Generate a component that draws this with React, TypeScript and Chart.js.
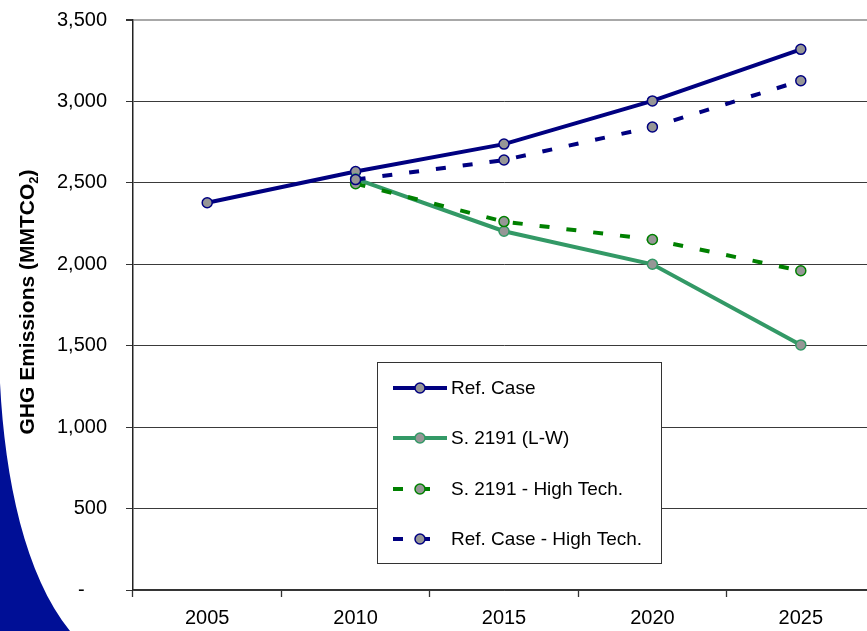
import React, { useEffect, useRef } from 'react';
import { Chart, registerables } from 'chart.js';

Chart.register(...registerables);

// ---- data ----
const years = ['2005', '2010', '2015', '2020', '2025'];
const refCase = [2378, 2570, 2738, 3003, 3320];
const s2191LW = [null, 2525, 2203, 2000, 1505];
const s2191HighTech = [null, 2495, 2262, 2152, 1960];
const refCaseHighTech = [null, 2520, 2640, 2843, 3127];
const yTickValues = [0, 500, 1000, 1500, 2000, 2500, 3000, 3500];
const seriesLabels = ['Ref. Case', 'S. 2191 (L-W)', 'S. 2191 - High Tech.', 'Ref. Case - High Tech.'];
const yTitleMain = 'GHG Emissions (MMTCO';
const yTitleSub = '2';
const yTitleEnd = ')';

const FONT = '"Liberation Sans", Arial, Helvetica, sans-serif';
const NAVY = '#000080';
const SEA = '#339966';
const GREEN = '#008000';
const MARK = '#969696';

const decoPlugin = {
  id: 'deco',
  beforeDraw(chart: any) {
    const ctx = chart.ctx;
    ctx.save();
    ctx.fillStyle = '#000f96';
    ctx.beginPath();
    ctx.moveTo(0, 383);
    ctx.bezierCurveTo(5, 480, 25, 575, 70, 631);
    ctx.lineTo(0, 631);
    ctx.closePath();
    ctx.fill();
    ctx.restore();
  },
  afterDraw(chart: any) {
    const ctx = chart.ctx;
    const area = chart.chartArea;
    ctx.save();
    const cy = (area.top + area.bottom) / 2 - 3;
    ctx.translate(28, cy);
    ctx.rotate(-Math.PI / 2);
    ctx.fillStyle = '#000';
    ctx.textBaseline = 'middle';
    ctx.textAlign = 'left';
    const big = 'bold 21px ' + FONT;
    const small = 'bold 13px ' + FONT;
    ctx.font = big;
    const w1 = ctx.measureText(yTitleMain).width;
    const w3 = ctx.measureText(yTitleEnd).width;
    ctx.font = small;
    const w2 = ctx.measureText(yTitleSub).width;
    let x = -(w1 + w2 + w3) / 2;
    ctx.font = big;
    ctx.fillText(yTitleMain, x, 0);
    x += w1;
    ctx.font = small;
    ctx.fillText(yTitleSub, x, 6);
    x += w2;
    ctx.font = big;
    ctx.fillText(yTitleEnd, x, 0);
    ctx.restore();
  },
};

const legendPlugin = {
  id: 'boxLegend',
  afterDatasetsDraw(chart: any) {
    const ctx = chart.ctx;
    ctx.save();
    const bx = 377.5, by = 362.5, bw = 284, bh = 201;
    ctx.fillStyle = '#fff';
    ctx.fillRect(bx, by, bw, bh);
    ctx.strokeStyle = '#333';
    ctx.lineWidth = 1;
    ctx.strokeRect(bx, by, bw, bh);
    const rows = [388, 438, 489, 539];
    chart.data.datasets.forEach((ds: any, i: number) => {
      const y = rows[i];
      ctx.beginPath();
      ctx.setLineDash(ds.borderDash || []);
      ctx.lineDashOffset = 0;
      ctx.lineCap = 'butt';
      ctx.strokeStyle = ds.borderColor;
      ctx.lineWidth = ds.borderWidth;
      ctx.moveTo(393, y);
      ctx.lineTo(447, y);
      ctx.stroke();
      ctx.setLineDash([]);
      ctx.beginPath();
      ctx.arc(420, y, ds.pointRadius, 0, Math.PI * 2);
      ctx.fillStyle = ds.pointBackgroundColor;
      ctx.fill();
      ctx.lineWidth = ds.pointBorderWidth;
      ctx.strokeStyle = ds.pointBorderColor;
      ctx.stroke();
      ctx.fillStyle = '#000';
      ctx.font = '19px ' + FONT;
      ctx.textBaseline = 'middle';
      ctx.textAlign = 'left';
      ctx.fillText(ds.label, 451, y + 1);
    });
    ctx.restore();
  },
};

function makeDs(label: string, data: any[], color: string, dash: number[], order: number) {
  return {
    label,
    data,
    borderColor: color,
    backgroundColor: color,
    borderWidth: 4,
    borderDash: dash,
    pointRadius: 5,
    pointBorderWidth: 1.5,
    pointBackgroundColor: MARK,
    pointBorderColor: color,
    tension: 0,
    fill: false,
    order,
  };
}

export default function App() {
  const ref = useRef<HTMLCanvasElement>(null);
  useEffect(() => {
    const chart = new Chart(ref.current as HTMLCanvasElement, {
      type: 'line',
      data: {
        labels: years,
        datasets: [
          makeDs(seriesLabels[0], refCase, NAVY, [], 4),
          makeDs(seriesLabels[1], s2191LW, SEA, [], 3),
          makeDs(seriesLabels[2], s2191HighTech, GREEN, [10, 17], 2),
          makeDs(seriesLabels[3], refCaseHighTech, NAVY, [10, 17], 1),
        ] as any,
      },
      options: {
        animation: false,
        responsive: false,
        events: [],
        layout: { padding: { top: 20, right: 10, bottom: 0, left: 0 } },
        plugins: { legend: { display: false }, tooltip: { enabled: false } },
        scales: {
          x: {
            offset: true,
            grid: { offset: true, drawOnChartArea: false, drawTicks: true, tickLength: 7, tickColor: '#333', tickWidth: 1.3 },
            border: { display: true, color: '#333', width: 1.5 },
            ticks: { color: '#000', font: { family: FONT, size: 20 }, padding: 9, maxRotation: 0 },
            afterFit: (s: any) => { s.height = 41; s.paddingLeft = 0; s.paddingRight = 0; },
          },
          y: {
            min: 0,
            max: 3500,
            afterBuildTicks: (s: any) => { s.ticks = yTickValues.map((v) => ({ value: v })); },
            grid: {
              color: (c: any) => (c.tick && c.tick.value === 3500 ? '#a8a8a8' : '#3a3a3a'),
              lineWidth: (c: any) => (c.tick && c.tick.value === 3500 ? 2 : 1),
              tickColor: '#333',
              tickLength: 7,
              drawTicks: true,
            },
            border: { display: true, color: '#222', width: 1.5 },
            ticks: {
              color: '#000',
              font: { family: FONT, size: 20 },
              padding: 19,
              callback: (v: any) => (Number(v) === 0 ? '-    ' : Number(v).toLocaleString('en-US')),
            },
            afterFit: (s: any) => { s.width = 133; s.paddingTop = 0; s.paddingBottom = 0; },
          },
        },
      },
      plugins: [decoPlugin, legendPlugin],
    });
    return () => chart.destroy();
  }, []);
  return (
    <div style={{ position: 'fixed', left: 0, top: 0, width: 867, height: 631, overflow: 'hidden', background: '#fff' }}>
      <canvas ref={ref} width={885} height={631} style={{ display: 'block', width: 885, height: 631 }} />
    </div>
  );
}
